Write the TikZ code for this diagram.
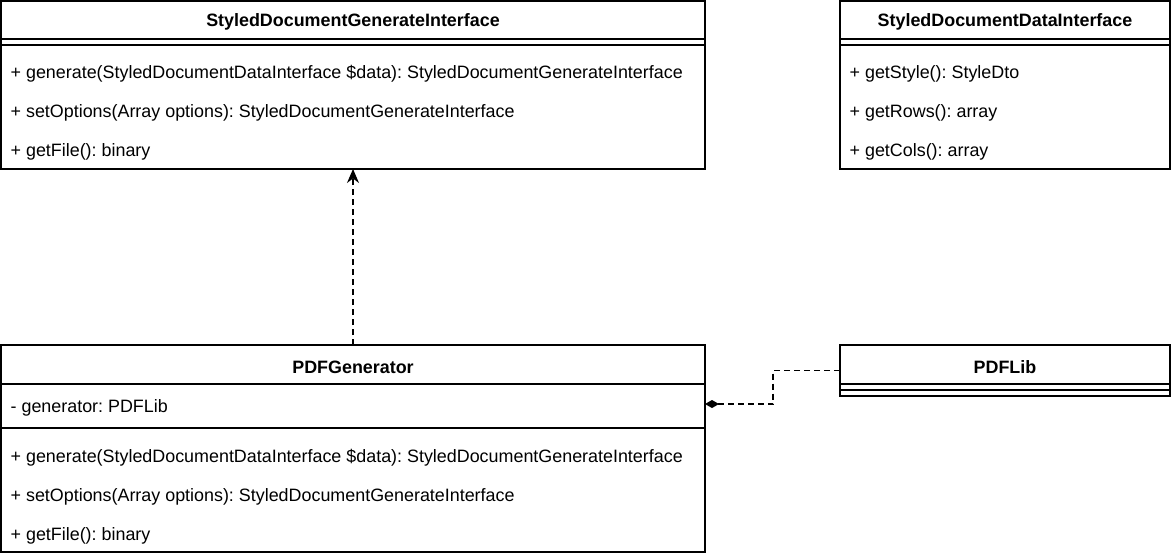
\documentclass[tikz,border=0pt]{standalone}
\usepackage{fontspec}
\setmainfont{Liberation Sans}
\frenchspacing
\usetikzlibrary{arrows.meta}
\begin{document}
\begin{tikzpicture}[x=1pt,y=-1pt,line width=1.3pt,
    font=\fontsize{17.9}{20}\selectfont,
    classbox/.style={draw,inner sep=0pt,outer sep=0pt,anchor=north west},
    member/.style={anchor=west,inner sep=0pt,yshift=-1.5pt},
    title/.style={font=\fontsize{17.9}{20}\selectfont\bfseries,inner sep=0pt,yshift=-1.5pt},
    link/.style={dash pattern=on 6pt off 4pt}]
  \useasboundingbox (0,0) rectangle (1172,558);

  % StyledDocumentGenerateInterface
  \node [classbox,minimum width=704pt,minimum height=168pt] (gen) at (1,1) {};
  \node [title] (gentitle) at (353,20) {StyledDocumentGenerateInterface};
  \draw (1,39) -- (705,39);
  \draw (1,45) -- (705,45);
  \node [member] (gen1) at (10,72) {+ generate(StyledDocumentDataInterface \$data): StyledDocumentGenerateInterface};
  \node [member] (gen2) at (10,111) {+ setOptions(Array options): StyledDocumentGenerateInterface};
  \node [member] (gen3) at (10,150) {+ getFile(): binary};

  % StyledDocumentDataInterface
  \node [classbox,minimum width=330pt,minimum height=168pt] (data) at (840,1) {};
  \node [title] (datatitle) at (1005,20) {StyledDocumentDataInterface};
  \draw (840,39) -- (1170,39);
  \draw (840,45) -- (1170,45);
  \node [member] (data1) at (849,72) {+ getStyle(): StyleDto};
  \node [member] (data2) at (849,111) {+ getRows(): array};
  \node [member] (data3) at (849,150) {+ getCols(): array};

  % PDFGenerator
  \node [classbox,minimum width=704pt,minimum height=207pt] (pdfgen) at (1,345) {};
  \node [title] (pdfgentitle) at (353,366) {PDFGenerator};
  \draw (1,384) -- (705,384);
  \node [member] (attr) at (10,406) {- generator: PDFLib};
  \draw (1,428) -- (705,428);
  \node [member] (pdfgen1) at (10,456) {+ generate(StyledDocumentDataInterface \$data): StyledDocumentGenerateInterface};
  \node [member] (pdfgen2) at (10,495) {+ setOptions(Array options): StyledDocumentGenerateInterface};
  \node [member] (pdfgen3) at (10,534) {+ getFile(): binary};

  % PDFLib
  \node [classbox,minimum width=330pt,minimum height=51pt] (pdflib) at (840,345) {};
  \node [title] (pdflibtitle) at (1005,366) {PDFLib};
  \draw (840,384) -- (1170,384);
  \draw (840,390) -- (1170,390);

  % realization
  \draw [link,-{Stealth[length=14pt,width=12pt]}] (pdfgen.north) -- (gen.south);
  % composition
  \draw [link,-{Diamond[length=14pt,width=8pt]}] (pdflib.west) -- ++(-67,0)
    |- (pdfgen.east |- 0,404);
\end{tikzpicture}
\end{document}
